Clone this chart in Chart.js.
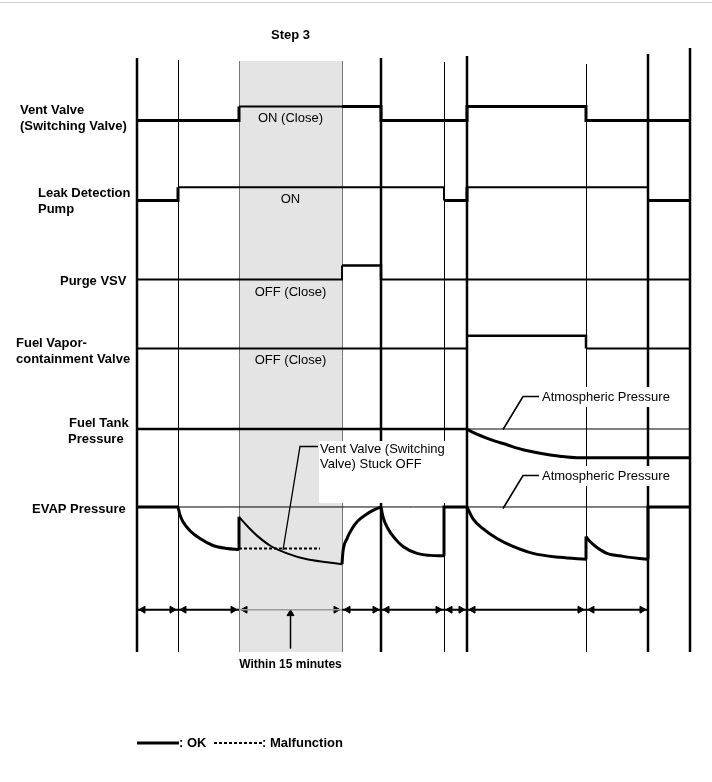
<!DOCTYPE html>
<html>
<head>
<meta charset="utf-8">
<title>EVAP system check - timing chart</title>
<script src="https://cdn.jsdelivr.net/npm/chart.js"></script>
<style>
  html, body { margin: 0; padding: 0; background: #fff; }
  canvas { display: block; }
</style>
</head>
<body>
<canvas id="timing" width="712" height="782"></canvas>
<script>
// time marks (arbitrary units) = the vertical lines of the diagram
const boundaries = [0, 41, 102, 205, 244, 307, 330, 449, 511, 553];
const shadeStep = 2; // interval index of "Step 3"

// on/off state of each output, one value per interval
const ventValve = [0, 0, 1, 1, 0, 0, 1, 0, 0];
const leakPump = [0, 1, 1, 1, 1, 0, 1, 1, 0];
const purgeVsv = [0, 0, 0, 1, 0, 0, 0, 0, 0];
const fuelVaporValve = [0, 0, 0, 0, 0, 0, 1, 0, 0];

// fuel tank pressure drop below atmospheric
const fuelTankT = [330, 336, 353, 370, 386, 403, 423, 440, 553];
const fuelTankP = [0, 3.5, 10.5, 16, 21, 24.5, 27.5, 29, 29];

// EVAP pressure drop below atmospheric, one pair of arrays per curve
const evapPumpDownT = [41, 43, 46, 53, 63, 76, 90, 102];
const evapPumpDownP = [0, 8, 15, 24, 32, 39, 42, 43];
const evapStep3T = [102, 110, 120, 133, 150, 170, 190, 205];
const evapStep3P = [10, 19, 29, 39, 47, 53, 56, 58];
const evapPurgeT = [205, 206, 210, 215, 221, 230, 237, 244];
const evapPurgeP = [58, 45, 32, 22, 14, 7, 3, 0];
const evapStep5T = [244, 246, 251, 258, 266, 280, 293, 307];
const evapStep5P = [0, 10, 22, 32, 40, 47, 49, 49.5];
const evapStep7T = [330, 336, 346, 360, 376, 396, 423, 449];
const evapStep7P = [0, 12, 22, 32, 40, 47, 51, 53];
const evapStep8T = [449, 453, 460, 470, 486, 511];
const evapStep8P = [30, 35, 41, 47, 50, 53];

// malfunction (vent valve stuck off)
const stuckOffT = [102, 183];
const stuckOffP = [42, 42];

// ---------- layout ----------
const FONT = '"Liberation Sans", Arial, Helvetica, sans-serif';
const BOLD = 'bold 13px ' + FONT;
const REG = '13px ' + FONT;
const ROW = {
    vent: { base: 117, amp: 14.3 },
    leak: { base: 198, amp: 13.5 },
    purge: { base: 278, amp: 14 },
    vapor: { base: 348, amp: 13 },
    tank: { base: 429.5 },
    evap: { base: 508.5 }
};
const GRID_BOTTOM = 652;
const SHADE_TOP = 61;
const DIM_Y = 612.5;
const lineKind = ['thick', 'thin', 'shade', 'shade', 'thick', 'thin', 'thick', 'thin', 'thick', 'thick'];
const lineTop = [58, 60, 61, 61, 58, 62, 56, 64, 54, 48];

const rowLabels = [
    ['Vent Valve', 20, 110], ['(Switching Valve)', 20, 126],
    ['Leak Detection', 38, 193], ['Pump', 38, 209],
    ['Purge VSV', 60, 281],
    ['Fuel Vapor-', 16, 343], ['containment Valve', 16, 359],
    ['Fuel Tank', 69, 423], ['Pressure', 68, 439],
    ['EVAP Pressure', 32, 509]
];

const t0 = boundaries[shadeStep], t1 = boundaries[shadeStep + 1];
const inShade = (a, b) => a >= t0 && b <= t1;

function stateLine(states, row, hiWidth, loWidth) {
    const pts = states.map((s, i) => ({ x: boundaries[i], y: row.base - row.amp * s }));
    pts.push({ x: boundaries[states.length], y: row.base - row.amp * states[states.length - 1] });
    return {
        data: pts,
        stepped: true,
        borderWidth: loWidth,
        segment: {
            borderWidth: function (ctx) {
                const a = boundaries[ctx.p0DataIndex], b = boundaries[ctx.p1DataIndex];
                if (inShade(a, b)) return 2;
                return states[ctx.p0DataIndex] ? hiWidth : loWidth;
            }
        }
    };
}

function curve(T, P, base, width) {
    return {
        data: T.map((t, i) => ({ x: t, y: base + P[i] })),
        cubicInterpolationMode: 'monotone',
        borderWidth: inShade(T[0], T[T.length - 1]) ? 2 : width
    };
}

var datasets = [];

// thin atmospheric reference lines
[ROW.tank.base, ROW.evap.base].forEach(function (b) {
    datasets.push({ data: [{ x: boundaries[0], y: b }, { x: boundaries[boundaries.length - 1], y: b }], borderWidth: 1 });
});

datasets.push(stateLine(ventValve, ROW.vent, 3, 3));
datasets.push(stateLine(leakPump, ROW.leak, 2, 3));
datasets.push(stateLine(purgeVsv, ROW.purge, 2.5, 2));
datasets.push(stateLine(fuelVaporValve, ROW.vapor, 2.5, 2));

// fuel tank pressure
datasets.push({ data: [{ x: boundaries[0], y: ROW.tank.base }, { x: fuelTankT[0], y: ROW.tank.base }], borderWidth: 2.5 });
datasets.push(curve(fuelTankT, fuelTankP, ROW.tank.base, 3));

// EVAP pressure curves + the straight parts joining them
const evapCurves = [
    [evapPumpDownT, evapPumpDownP], [evapStep3T, evapStep3P], [evapPurgeT, evapPurgeP],
    [evapStep5T, evapStep5P], [evapStep7T, evapStep7P], [evapStep8T, evapStep8P]
];
var joins = [{ x: boundaries[0], y: ROW.evap.base }, { x: evapCurves[0][0][0], y: ROW.evap.base + evapCurves[0][1][0] }, { x: 0, y: null }];
evapCurves.forEach(function (c, i) {
    datasets.push(curve(c[0], c[1], ROW.evap.base, 3));
    const endT = c[0][c[0].length - 1], endP = c[1][c[1].length - 1];
    const next = evapCurves[i + 1];
    const nextT = next ? next[0][0] : boundaries[boundaries.length - 1];
    joins.push({ x: endT, y: ROW.evap.base + endP });
    if (next && nextT === endT) {
        joins.push({ x: nextT, y: ROW.evap.base + next[1][0] });
    } else if (nextT !== endT || endP !== 0) {
        joins.push({ x: endT, y: ROW.evap.base });
        joins.push({ x: nextT, y: ROW.evap.base + (next ? next[1][0] : 0) });
    }
    joins.push({ x: endT, y: null });
});
datasets.push({ data: joins, borderWidth: 3, spanGaps: false });

// malfunction line
datasets.push({
    data: stuckOffT.map((t, i) => ({ x: t, y: ROW.evap.base + stuckOffP[i] })),
    borderWidth: 2, borderDash: [3, 2]
});

// dimension row with arrow heads
const dimEnd = boundaries.length - 2;
datasets.push({
    data: boundaries.slice(0, dimEnd + 1).map(t => ({ x: t, y: DIM_Y })),
    borderWidth: 2,
    segment: { borderColor: ctx => inShade(boundaries[ctx.p0DataIndex], boundaries[ctx.p1DataIndex]) ? '#999' : '#000',
               borderWidth: ctx => inShade(boundaries[ctx.p0DataIndex], boundaries[ctx.p1DataIndex]) ? 1.5 : 2 }
});
var heads = [], rots = [];
for (var i = 0; i < dimEnd; i++) {
    heads.push({ x: boundaries[i] + 6, y: DIM_Y }); rots.push(-90);
    heads.push({ x: boundaries[i + 1] - 6, y: DIM_Y }); rots.push(90);
}
const midStep = (t0 + t1) / 2;
heads.push({ x: midStep, y: DIM_Y + 4 }); rots.push(0);
datasets.push({
    data: heads, showLine: false, pointStyle: 'triangle', pointRadius: 4,
    pointRotation: rots, pointBackgroundColor: '#000', pointBorderColor: '#000', pointBorderWidth: 1
});
datasets.push({ data: [{ x: midStep, y: GRID_BOTTOM }, { x: midStep, y: DIM_Y + 6 }], borderWidth: 1.5 });

datasets.forEach(function (d) {
    d.borderColor = d.borderColor || '#000';
    d.fill = false;
    d.clip = false;
    if (d.pointRadius === undefined) d.pointRadius = 0;
});

function seg(ctx, x1, y1, x2, y2) {
    ctx.beginPath(); ctx.moveTo(x1, y1); ctx.lineTo(x2, y2); ctx.stroke();
}
function label(ctx, s, x, y, font, align) {
    ctx.font = font; ctx.textAlign = align || 'left'; ctx.textBaseline = 'middle';
    ctx.fillStyle = '#000'; ctx.fillText(s, x, y);
}

const diagramPlugin = {
    id: 'diagram',
    beforeDatasetsDraw: function (chart) {
        const ctx = chart.ctx, xs = chart.scales.x;
        ctx.save();
        ctx.strokeStyle = '#d0d0d0'; ctx.lineWidth = 1;
        seg(ctx, 0, 2.5, chart.width, 2.5);
        const sx0 = Math.round(xs.getPixelForValue(t0)), sx1 = Math.round(xs.getPixelForValue(t1));
        ctx.fillStyle = '#e4e4e4';
        ctx.fillRect(sx0, SHADE_TOP, sx1 - sx0, GRID_BOTTOM - SHADE_TOP);
        boundaries.forEach(function (t, i) {
            var px = xs.getPixelForValue(t);
            if (lineKind[i] !== 'thick') px = Math.round(px) + 0.5;
            ctx.strokeStyle = lineKind[i] === 'shade' ? '#777' : '#000';
            ctx.lineWidth = lineKind[i] === 'thick' ? 2.5 : 1;
            seg(ctx, px, lineTop[i], px, GRID_BOTTOM);
        });
        ctx.restore();
    },
    afterDatasetsDraw: function (chart) {
        const ctx = chart.ctx, xs = chart.scales.x;
        const cx = (xs.getPixelForValue(t0) + xs.getPixelForValue(t1)) / 2;
        ctx.save();
        // white boxes behind callout texts
        ctx.fillStyle = '#fff';
        ctx.fillRect(319, 441, 143, 62);
        ctx.fillRect(540, 387, 142, 20);
        ctx.fillRect(540, 466, 142, 20);

        label(ctx, 'Step 3', cx, 35, BOLD, 'center');
        rowLabels.forEach(r => label(ctx, r[0], r[1], r[2], BOLD));
        label(ctx, 'ON (Close)', cx, 118, REG, 'center');
        label(ctx, 'ON', cx, 199, REG, 'center');
        label(ctx, 'OFF (Close)', cx, 292, REG, 'center');
        label(ctx, 'OFF (Close)', cx, 360, REG, 'center');

        // callouts
        ctx.strokeStyle = '#000'; ctx.lineWidth = 1.3;
        label(ctx, 'Vent Valve (Switching', 320, 449, REG);
        label(ctx, 'Valve) Stuck OFF', 320, 464, REG);
        ctx.beginPath(); ctx.moveTo(318, 446.5); ctx.lineTo(300, 446.5); ctx.lineTo(283, 550); ctx.stroke();
        [[397, ROW.tank.base], [476, ROW.evap.base]].forEach(function (a) {
            label(ctx, 'Atmospheric Pressure', 542, a[0], REG);
            ctx.lineWidth = 1.6;
            ctx.beginPath(); ctx.moveTo(539, a[0] - 0.5); ctx.lineTo(523, a[0] - 0.5); ctx.lineTo(503, a[1]); ctx.stroke();
        });

        label(ctx, 'Within 15 minutes', xs.getPixelForValue(midStep), 665, 'bold 12px ' + FONT, 'center');

        // legend
        ctx.lineWidth = 3; ctx.setLineDash([]);
        seg(ctx, 137, 743, 179, 743);
        label(ctx, ': OK', 179, 743, BOLD);
        ctx.lineWidth = 2; ctx.setLineDash([3, 2]);
        seg(ctx, 214, 743, 262, 743);
        ctx.setLineDash([]);
        label(ctx, ': Malfunction', 262, 743, BOLD);
        ctx.restore();
    }
};

new Chart(document.getElementById('timing'), {
    type: 'line',
    data: { datasets: datasets },
    options: {
        responsive: false,
        animation: false,
        events: [],
        layout: { padding: { left: 137, right: 22, top: 0, bottom: 0 } },
        scales: {
            x: { type: 'linear', min: boundaries[0], max: boundaries[boundaries.length - 1], display: false },
            y: { type: 'linear', min: 0, max: 782, reverse: true, display: false }
        },
        elements: { line: { tension: 0, borderCapStyle: 'butt' } },
        plugins: { legend: { display: false }, tooltip: { enabled: false } }
    },
    plugins: [diagramPlugin]
});
</script>
</body>
</html>
